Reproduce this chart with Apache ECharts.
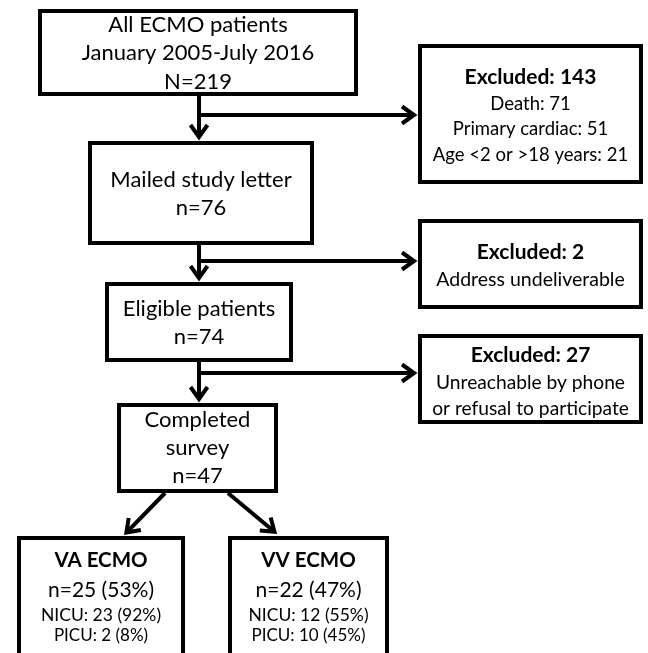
<!DOCTYPE html>
<html>
<head>
<meta charset="utf-8">
<script src="https://cdn.jsdelivr.net/npm/echarts@6/dist/echarts.min.js"></script>
<style>
  html, body { margin: 0; padding: 0; background: #fff; }
  #chart { width: 648px; height: 653px; }
</style>
</head>
<body>
<div id="chart"></div>
<script>
// flow steps (main column)
const stepLabels = [['All ECMO patients', 'January 2005-July 2016'], ['Mailed study letter'], ['Eligible patients'], ['Completed', 'survey']];
const stepCounts = ['N=219', 'n=76', 'n=74', 'n=47'];

// exclusions at each step
const excludedCounts = [143, 2, 27];
const excludedReasons = [
  ['Death: 71', 'Primary cardiac: 51', 'Age <2 or >18 years: 21'],
  ['Address undeliverable'],
  ['Unreachable by phone', 'or refusal to participate']
];

// final split
const armNames = ['VA ECMO', 'VV ECMO'];
const armN = [25, 22];
const armPct = [53, 47];
const nicuN = [23, 12];
const nicuPct = [92, 55];
const picuN = [2, 10];
const picuPct = [8, 45];

const FONT = 'Lato, "Open Sans", sans-serif';
const LW = 4;
const els = [];

function box(x1, y1, x2, y2) {
  // outer edges given, stroke drawn centered
  els.push({
    type: 'rect',
    shape: { x: x1 + LW / 2, y: y1 + LW / 2, width: x2 - x1 - LW, height: y2 - y1 - LW },
    style: { fill: '#fff', stroke: '#000', lineWidth: LW },
    z: 5
  });
}

function label(text, x, y, size, bold) {
  els.push({
    type: 'text',
    x: x, y: y,
    style: {
      text: text,
      fill: '#000',
      font: (bold ? 'bold ' : '') + size + 'px ' + FONT,
      textAlign: 'center', textVerticalAlign: 'middle',
      align: 'center', verticalAlign: 'middle'
    },
    z: 10
  });
}

function arrow(x1, y1, x2, y2) {
  const len = Math.hypot(x2 - x1, y2 - y1);
  const dx = (x2 - x1) / len, dy = (y2 - y1) / len;
  const L = 14, W = 8.5;
  els.push({
    type: 'polyline',
    shape: { points: [[x1, y1], [x2 - dx * 2, y2 - dy * 2]] },
    style: { stroke: '#000', lineWidth: LW, fill: null },
    z: 4
  });
  const bx = x2 - dx * L, by = y2 - dy * L;
  els.push({
    type: 'polyline',
    shape: { points: [[bx - dy * W, by + dx * W], [x2 - dx * 2, y2 - dy * 2], [bx + dy * W, by - dx * W]] },
    style: { stroke: '#000', lineWidth: LW, fill: null, lineJoin: 'miter' },
    z: 4
  });
}

// main column boxes: [x1, y1, x2, y2]
const mainBoxes = [[38, 9, 358, 96], [88, 141, 314, 245], [105, 282, 293, 362], [117, 403, 278, 493]];
const mainLineY = [[25, 53, 82], [180, 208], [309, 337], [420, 448, 476]];
const exclBoxes = [[418, 44, 643, 184], [418, 219, 643, 309], [418, 334, 643, 424]];
const exclLineY = [[77, 104, 129, 155], [252, 280], [355, 383, 409]];
const exclReasonSize = [18.5, 19.5, 19.2];
const branchY = [115, 261, 373];
const CX = 199;

mainBoxes.forEach(function (b, i) {
  box(b[0], b[1], b[2], b[3]);
  const cx = (b[0] + b[2]) / 2;
  const lines = stepLabels[i].concat([stepCounts[i]]);
  lines.forEach(function (t, j) { label(t, cx, mainLineY[i][j], 22, false); });
});

exclBoxes.forEach(function (b, i) {
  box(b[0], b[1], b[2], b[3]);
  const cx = (b[0] + b[2]) / 2;
  label('Excluded: ' + excludedCounts[i], cx, exclLineY[i][0], 21, true);
  excludedReasons[i].forEach(function (t, j) {
    label(t, cx, exclLineY[i][j + 1], exclReasonSize[i], false);
  });
});

// vertical arrows and side branches
for (let i = 0; i < 3; i++) {
  arrow(CX, mainBoxes[i][3] - 2, CX, mainBoxes[i + 1][1] - 2);
  arrow(CX, branchY[i], exclBoxes[i][0] - 2, branchY[i]);
}

// final arms
const armBoxes = [[17, 536, 185, 700], [228, 536, 389, 700]];
const armArrows = [[165, 493, 125, 534], [228, 493, 276, 533]];
armBoxes.forEach(function (b, i) {
  box(b[0], b[1], b[2], b[3]);
  const cx = (b[0] + b[2]) / 2;
  label(armNames[i], cx, 560, 20.5, true);
  label('n=' + armN[i] + ' (' + armPct[i] + '%)', cx, 590, 21, false);
  label('NICU: ' + nicuN[i] + ' (' + nicuPct[i] + '%)', cx, 615, 17.5, false);
  label('PICU: ' + picuN[i] + ' (' + picuPct[i] + '%)', cx, 636, 17, false);
  const a = armArrows[i];
  arrow(a[0], a[1], a[2], a[3]);
});

const chart = echarts.init(document.getElementById('chart'), null, { renderer: 'canvas' });
chart.setOption({
  backgroundColor: '#fff',
  animation: false,
  graphic: { elements: els }
});
</script>
</body>
</html>
